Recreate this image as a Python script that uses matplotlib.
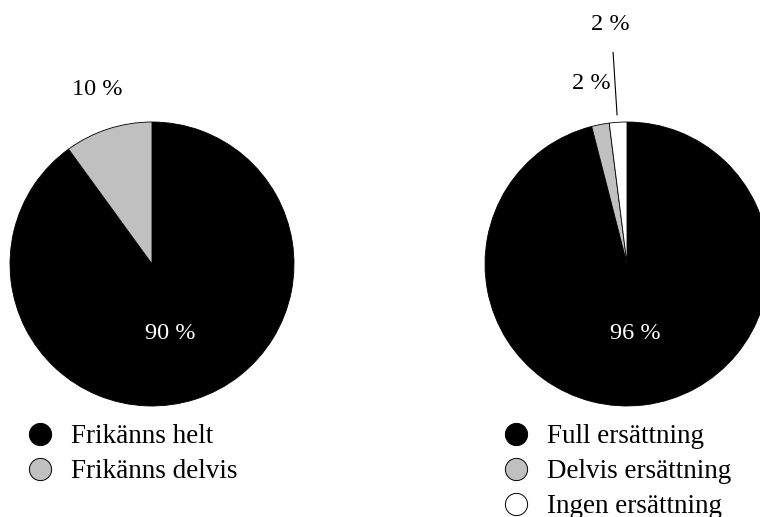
import matplotlib.pyplot as plt
from matplotlib.lines import Line2D

plt.rcParams['font.family'] = ['Liberation Serif', 'DejaVu Serif']

# left pie
left_labels = ['Frikänns helt', 'Frikänns delvis']
left_values = [90, 10]
left_colors = ['black', '#c0c0c0']

# right pie
right_labels = ['Full ersättning', 'Delvis ersättning', 'Ingen ersättning']
right_values = [96, 2, 2]
right_colors = ['black', '#c0c0c0', 'white']

W, H = 760, 517
fig = plt.figure(figsize=(W / 100, H / 100), dpi=100)

R = 142
PCT = 17.5


def make_ax(cx, cy):
    ax = fig.add_axes([(cx - R) / W, (H - cy - R) / H, 2 * R / W, 2 * R / H])
    ax.axis('off')
    return ax


def draw_pie(ax, values, colors):
    ax.pie(values, colors=colors, startangle=90, counterclock=False,
           radius=1, wedgeprops=dict(edgecolor='black', linewidth=0.6))
    ax.set_xlim(-1, 1)
    ax.set_ylim(-1, 1)


ax1 = make_ax(152, 264)
draw_pie(ax1, left_values, left_colors)
ax1.text(0.127, -0.49, f'{left_values[0]} %', color='white', fontsize=PCT, ha='center', va='center')
ax1.text(-0.384, 1.23, f'{left_values[1]} %', color='black', fontsize=PCT, ha='center', va='center', clip_on=False)

ax2 = make_ax(627, 264)
draw_pie(ax2, right_values, right_colors)
ax2.text(0.056, -0.49, f'{right_values[0]} %', color='white', fontsize=PCT, ha='center', va='center')
ax2.text(-0.25, 1.27, f'{right_values[1]} %', color='black', fontsize=PCT, ha='center', va='center', clip_on=False)
ax2.text(-0.12, 1.69, f'{right_values[2]} %', color='black', fontsize=PCT, ha='center', va='center', clip_on=False)
ax2.plot([-0.098, -0.07], [1.49, 1.05], color='black', linewidth=0.8, clip_on=False)


def handles(colors):
    return [Line2D([], [], marker='o', linestyle='none', markersize=16,
                   markerfacecolor=c, markeredgecolor='black', markeredgewidth=0.7)
            for c in colors]


leg_kw = dict(loc='upper left', frameon=False, fontsize=19.5, handletextpad=0.63,
              labelspacing=0.37, handlelength=1.0, borderpad=0, borderaxespad=0)
fig.legend(handles(left_colors), left_labels, bbox_to_anchor=(26.5 / W, 1 - 424 / H), **leg_kw)
fig.legend(handles(right_colors), right_labels, bbox_to_anchor=(502.5 / W, 1 - 424 / H), **leg_kw)

plt.savefig('out.png', dpi=100)
